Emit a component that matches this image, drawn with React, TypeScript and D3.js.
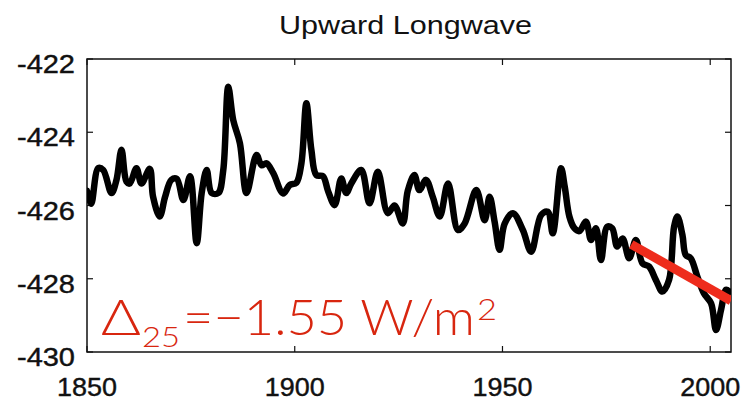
import React from "react";
import * as d3 from "d3";

const years = [
  1850, 1851, 1852.7, 1853.9, 1855.9, 1857.1, 1858.3, 1859.5, 1860.3, 1861.9, 1863.1, 1865.1, 1865.9,
  1867.5, 1868.8, 1870.3, 1871.6, 1873.2, 1874.8, 1876.4, 1877.6, 1878.8, 1880, 1881.6, 1882.8, 1884,
  1885.2, 1886.8, 1888.4, 1890.8, 1892, 1893.2, 1894.8, 1897.2, 1898.8, 1900.4, 1901.6, 1902.8, 1904,
  1905.2, 1906.8, 1908, 1909.6, 1911.2, 1912.4, 1913.6, 1916, 1918, 1920, 1922.4, 1924, 1926, 1927.2,
  1928.8, 1930, 1931.6, 1933.2, 1934.9, 1936.9, 1939.3, 1940.9, 1943.7, 1945.7, 1946.9, 1948.1, 1949.3,
  1950.5, 1952.5, 1954.9, 1956.9, 1959.3, 1960.9, 1962.1, 1964.1, 1965, 1966.1, 1967.3, 1968.5, 1970.1,
  1971.3, 1972.5, 1973.7, 1975.2, 1976.4, 1977.6, 1978.9, 1980.5, 1982.1, 1983.7, 1985.3, 1986.9, 1988.5,
  1990.1, 1991.3, 1992.1, 1993.3, 1994.1, 1995.3, 1996.9, 1998.5, 2000.2, 2001.4, 2002.6, 2003.8, 2004.6,
];

const values = [
  -425.6, -425.95, -424.98, -425.03, -425.66, -425.3, -424.48, -425.35, -425.4, -424.98, -425.4, -425.0, -425.76,
  -426.3, -425.76, -425.3, -425.27, -425.85, -425.2, -427.03, -425.66, -425.03, -425.66, -425.66, -425.03, -422.76,
  -423.67, -424.3, -425.66, -424.62, -424.9, -424.85, -425.11, -425.67, -425.44, -425.38, -424.85, -423.21, -424.48,
  -425.17, -425.2, -425.6, -425.99, -425.26, -425.66, -425.4, -425.03, -425.94, -425.08, -426.21, -426.0, -426.49, -425.6,
  -425.17, -425.58, -425.3, -425.76, -426.3, -425.4, -426.67, -426.49, -425.58, -426.4, -425.76, -426.44, -427.21,
  -426.5, -426.21, -426.67, -427.26, -426.26, -426.17, -426.76, -424.98, -425.5, -426.3, -426.62, -426.7, -426.44,
  -426.94, -426.62, -427.49, -426.58, -426.62, -427.12, -426.9, -427.44, -426.94, -427.58, -427.67, -428.03, -428.35,
  -428.03, -426.58, -426.3, -426.8, -427.35, -427.44, -427.94, -428.4, -428.67, -429.4, -428.85, -428.3, -428.35,
];

const trendYears = [1981, 2005];
const trendValues = [-427.06, -428.6];

const xTicks = [1850, 1900, 1950, 2000];
const yTicks = [-422, -424, -426, -428, -430];

const title = "Upward Longwave";

export default function App() {
  const W = 750, H = 403;
  const left = 87, right = 731, top = 59, bottom = 352;
  const x = d3.scaleLinear().domain([1850, 2005]).range([left, right]);
  const y = d3.scaleLinear().domain([-430, -422]).range([bottom, top]);

  const pts = years.map((yr, i) => [yr, values[i]] as [number, number]);
  const line = d3
    .line<[number, number]>()
    .x((d) => x(d[0]))
    .y((d) => y(d[1]))
    .curve(d3.curveCatmullRom.alpha(0.5));
  const trend = trendYears.map((yr, i) => [yr, trendValues[i]] as [number, number]);
  const tline = d3.line<[number, number]>().x((d) => x(d[0])).y((d) => y(d[1]));

  const font = "'Liberation Sans', Arial, Helvetica, sans-serif";
  const lightFont = "Lato, 'Open Sans', 'Liberation Sans', sans-serif";
  const tickLen = 6;

  return (
    <svg
      width={W}
      height={H}
      style={{ position: "absolute", left: 0, top: 0, display: "block", background: "#fff" }}
    >
      <defs>
        <clipPath id="plot">
          <rect x={left} y={top} width={right - left} height={bottom - top} />
        </clipPath>
      </defs>
      <text
        x={(279 + 532) / 2}
        y={34}
        textAnchor="middle"
        fontFamily={font}
        fontSize={26}
        textLength={253}
        lengthAdjust="spacingAndGlyphs"
        fill="#111"
      >
        {title}
      </text>

      {/* frame */}
      <rect x={left} y={top} width={right - left} height={bottom - top} fill="none" stroke="#111" strokeWidth={1.5} />

      {/* ticks */}
      {xTicks.map((t) => (
        <g key={"xt" + t}>
          <line x1={x(t)} x2={x(t)} y1={bottom} y2={bottom - tickLen} stroke="#111" strokeWidth={1.2} />
          <line x1={x(t)} x2={x(t)} y1={top} y2={top + tickLen} stroke="#111" strokeWidth={1.2} />
          <text
            x={x(t)}
            y={396}
            textAnchor="middle"
            fontFamily={font}
            fontSize={26}
            textLength={60}
            lengthAdjust="spacingAndGlyphs"
            fill="#111"
            stroke="#111"
            strokeWidth={0.4}
          >
            {t}
          </text>
        </g>
      ))}
      {yTicks.map((t) => (
        <g key={"yt" + t}>
          <line x1={left} x2={left + tickLen} y1={y(t)} y2={y(t)} stroke="#111" strokeWidth={1.2} />
          <line x1={right} x2={right - tickLen} y1={y(t)} y2={y(t)} stroke="#111" strokeWidth={1.2} />
          <text
            x={75}
            y={y(t) + 14}
            textAnchor="end"
            fontFamily={font}
            fontSize={25}
            textLength={58}
            lengthAdjust="spacingAndGlyphs"
            fill="#111"
            stroke="#111"
            strokeWidth={0.4}
          >
            {t}
          </text>
        </g>
      ))}

      <g clipPath="url(#plot)">
        <path
          d={line(pts) || ""}
          fill="none"
          stroke="#000"
          strokeWidth={6.5}
          strokeLinejoin="round"
          strokeLinecap="round"
        />
        <path d={tline(trend) || ""} fill="none" stroke="#ee2c1c" strokeWidth={9} />
      </g>

      {/* annotation */}
      <g fill="#d8260f" fontFamily={lightFont} fontWeight={300}>
        <text x={101} y={335} fontSize={50} textLength={40} lengthAdjust="spacingAndGlyphs">
          Δ
        </text>
        <text x={142} y={347} fontSize={28} textLength={38} lengthAdjust="spacingAndGlyphs">
          25
        </text>
        <text x={183} y={335} fontSize={50} textLength={292} lengthAdjust="spacingAndGlyphs">
          =−1.55 W/m
        </text>
        <text x={477} y={320} fontSize={29} textLength={20} lengthAdjust="spacingAndGlyphs">
          2
        </text>
      </g>
    </svg>
  );
}
